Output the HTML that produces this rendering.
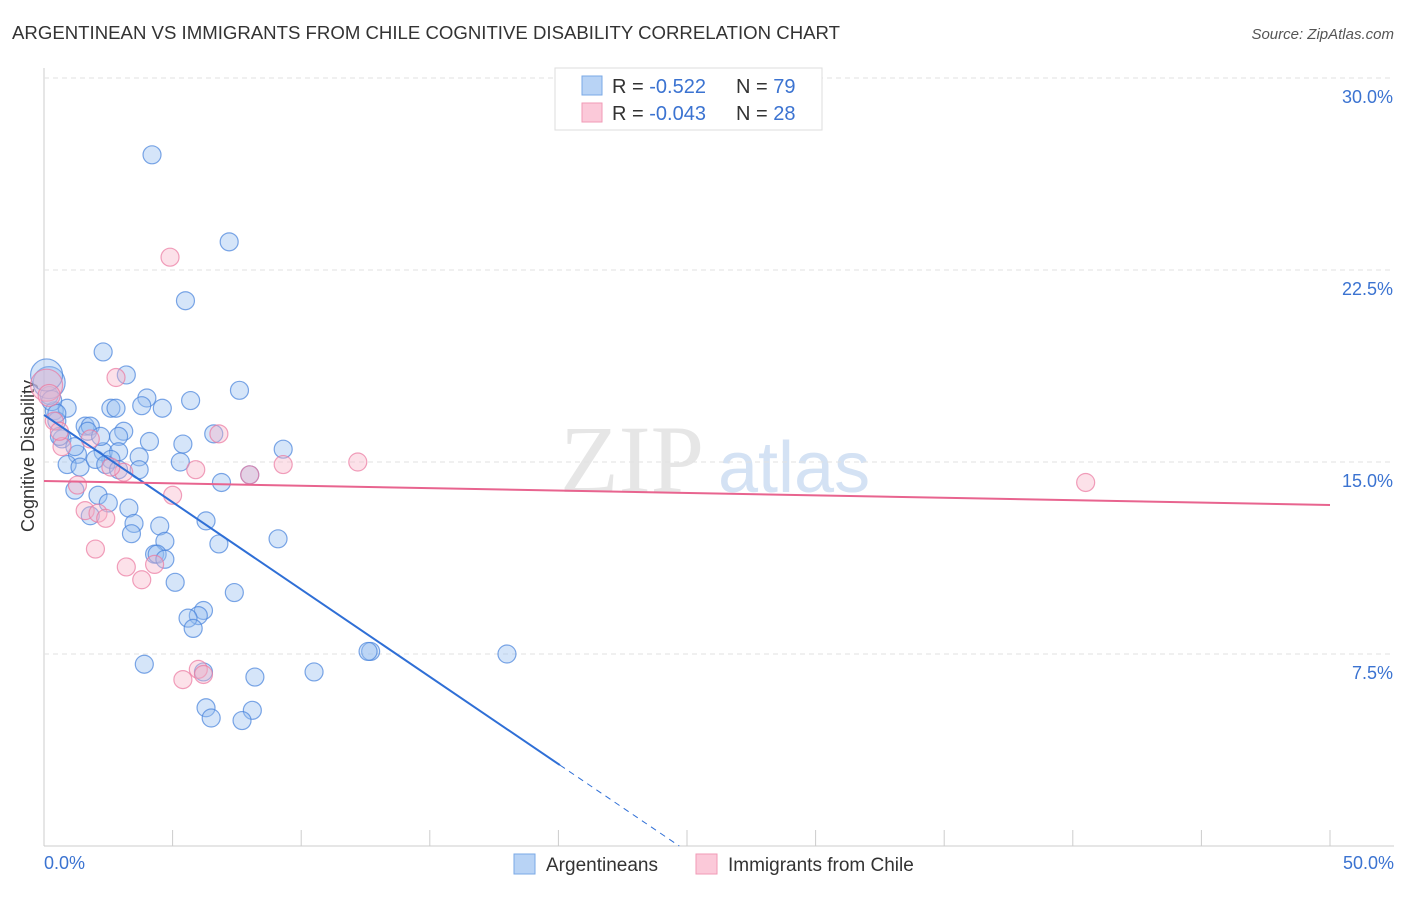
<!DOCTYPE html>
<html><head><meta charset="utf-8"><style>
body{margin:0;background:#fff;font-family:"Liberation Sans",sans-serif}
</style></head><body>
<svg width="1406" height="892" xmlns="http://www.w3.org/2000/svg" id="svg">
<text x="12" y="39" font-size="18" fill="#333" textLength="828" lengthAdjust="spacingAndGlyphs">ARGENTINEAN VS IMMIGRANTS FROM CHILE COGNITIVE DISABILITY CORRELATION CHART</text>
<text x="1394" y="39" font-size="15" fill="#555" font-style="italic" text-anchor="end">Source: ZipAtlas.com</text>
<text x="560" y="492" font-size="96" fill="#e6e6e6" font-family="Liberation Serif">ZIP</text>
<text x="718" y="492" font-size="72" fill="#d4e2f4">atlas</text>
<text transform="translate(34,456) rotate(-90)" font-size="18" fill="#333" text-anchor="middle">Cognitive Disability</text>
<g id="grid"></g><g id="pts"></g><g id="lines"></g>
<g>
<rect x="555" y="68" width="267" height="62" fill="#fff" stroke="#ddd"/>
<rect x="582" y="76" width="20" height="19" fill="#b8d3f5" stroke="#7aa8e6"/>
<rect x="582" y="103" width="20" height="19" fill="#fbc9d9" stroke="#f09ab6"/>
<text x="612" y="93" font-size="20" fill="#333">R = <tspan fill="#3b73d1"> -0.522</tspan><tspan x="736">N = </tspan><tspan fill="#3b73d1">79</tspan></text>
<text x="612" y="120" font-size="20" fill="#333">R = <tspan fill="#3b73d1">-0.043</tspan><tspan x="736">N = </tspan><tspan fill="#3b73d1">28</tspan></text>
</g>
<g>
<rect x="514" y="854" width="21" height="20" fill="#b8d3f5" stroke="#7aa8e6"/>
<text x="546" y="871" font-size="19" fill="#333">Argentineans</text>
<rect x="696" y="854" width="21" height="20" fill="#fbc9d9" stroke="#f09ab6"/>
<text x="728" y="871" font-size="19" fill="#333">Immigrants from Chile</text>
</g>
</svg>
<script>
const yTicks=[7.5,15,22.5,30];
const xTicks=[0,5,10,15,20,25,30,35,40,45,50];
const blueX=[4.2,7.2,5.5,2.3,3.2,7.6,4,5.7,4.6,2.6,2.8,3.8,0.4,0.9,0.2,0.2,1.6,1.8,1.7,3.1,2.9,0.7,4.1,6.6,5.4,9.3,2.3,2.9,1.3,3.7,0.9,1.4,2.6,5.3,8,6.9,1.2,2.1,1.8,2.5,3.3,3.5,4.5,3.4,6.3,9.1,4.7,6.8,4.3,4.4,4.7,5.1,7.4,6.2,6,5.6,5.8,12.7,12.6,18,3.9,10.5,8.2,6.2,6.3,8.1,6.5,7.7,0.5,0.1,0.3,0.6,1.2,2,2.4,3.7,0.5,2.2,2.9];
const blueY=[27.0,23.6,21.3,19.3,18.4,17.8,17.5,17.4,17.1,17.1,17.1,17.2,17.0,17.1,17.6,18.1,16.4,16.4,16.2,16.2,16.0,15.9,15.8,16.1,15.7,15.5,15.4,15.4,15.3,15.2,14.9,14.8,15.1,15.0,14.5,14.2,13.9,13.7,12.9,13.4,13.2,12.6,12.5,12.2,12.7,12.0,11.9,11.8,11.4,11.4,11.2,10.3,9.9,9.2,9.0,8.9,8.5,7.6,7.6,7.5,7.1,6.8,6.6,6.8,5.4,5.3,5.0,4.9,16.6,18.4,17.4,16.0,15.6,15.1,14.9,14.7,16.9,16.0,14.7];
const blueR=[9,9,9,9,9,9,9,9,9,9,9,9,9,9,9,16,9,9,9,9,9,9,9,9,9,9,9,9,9,9,9,9,9,9,9,9,9,9,9,9,9,9,9,9,9,9,9,9,9,9,9,9,9,9,9,9,9,9,9,9,9,9,9,9,9,9,9,9,9,16,10,9,9,9,9,9,9,9,9];
const pinkX=[4.9,2.8,0.1,0.2,0.4,1.8,0.7,6.8,9.3,12.2,8,5.9,3.1,2.6,40.5,1.3,5,1.6,2.1,2.4,2,3.2,4.3,3.8,6,5.4,6.2,0.6];
const pinkY=[23.0,18.3,18.0,17.6,16.6,15.9,15.6,16.1,14.9,15.0,14.5,14.7,14.6,14.8,14.2,14.1,13.7,13.1,13.0,12.8,11.6,10.9,11.0,10.4,6.9,6.5,6.7,16.2];
const pinkR=[9,9,16,11,9,9,9,9,9,9,9,9,9,9,9,9,9,9,9,9,9,9,9,9,9,9,9,9];
const blueTrend=[[0,16.84],[20.06,3.16]], blueDash=[[20.06,3.16],[24.7,0]];
const pinkTrend=[[0,14.26],[50,13.32]];
const X=v=>44+v/50*1286, Y=v=>846-v/7.5*192;
const NS='http://www.w3.org/2000/svg';
function mk(t,a,p){const e=document.createElementNS(NS,t);for(const k in a)e.setAttribute(k,a[k]);p.appendChild(e);return e;}
const grid=document.getElementById('grid'),pts=document.getElementById('pts'),lines=document.getElementById('lines');
mk('line',{x1:44,y1:68,x2:44,y2:846,stroke:'#ccc'},grid);
mk('line',{x1:44,y1:846,x2:1394,y2:846,stroke:'#ccc'},grid);
yTicks.forEach(t=>{
 const l=mk('line',{x1:44,y1:Y(t),x2:1394,y2:Y(t),stroke:'#e2e2e2','stroke-dasharray':'5,4'},grid);
 
 
 const tx=mk('text',{x:1393,y:Y(t)+25,'font-size':18,fill:'#3b73d1','text-anchor':'end'},grid);
 tx.textContent=t.toFixed(1)+'%';
 
 
});
xTicks.forEach(t=>{
 const l=mk('line',{x1:X(t),y1:830,x2:X(t),y2:846,stroke:'#ccc'},grid);
 
 
});
[[0,'start',44],[50,'end',1394]].forEach(([t,a,x])=>{
 const tx=mk('text',{x:x,y:869,'font-size':18,fill:'#3b73d1','text-anchor':a},grid);
 tx.textContent=t.toFixed(1)+'%';
 
 
});
blueX.forEach((v,i)=>{
 const c=mk('circle',{cx:X(v),cy:Y(blueY[i]),r:blueR[i],fill:'rgba(150,190,240,0.4)',stroke:'rgba(70,130,220,0.7)','stroke-width':1.2},pts);
 
 
});
pinkX.forEach((v,i)=>{
 const c=mk('circle',{cx:X(v),cy:Y(pinkY[i]),r:pinkR[i],fill:'rgba(248,180,200,0.4)',stroke:'rgba(235,120,160,0.7)','stroke-width':1.2},pts);
 
 
});
let l=mk('line',{x1:X(blueTrend[0][0]),y1:Y(blueTrend[0][1]),x2:X(blueTrend[1][0]),y2:Y(blueTrend[1][1]),stroke:'#2f6fd6','stroke-width':2},lines);


l=mk('line',{x1:X(blueDash[0][0]),y1:Y(blueDash[0][1]),x2:X(blueDash[1][0]),y2:Y(blueDash[1][1]),stroke:'#2f6fd6','stroke-width':1,'stroke-dasharray':'6,5'},lines);


l=mk('line',{x1:X(pinkTrend[0][0]),y1:Y(pinkTrend[0][1]),x2:X(pinkTrend[1][0]),y2:Y(pinkTrend[1][1]),stroke:'#e8648f','stroke-width':2},lines);


</script>
</body></html>
